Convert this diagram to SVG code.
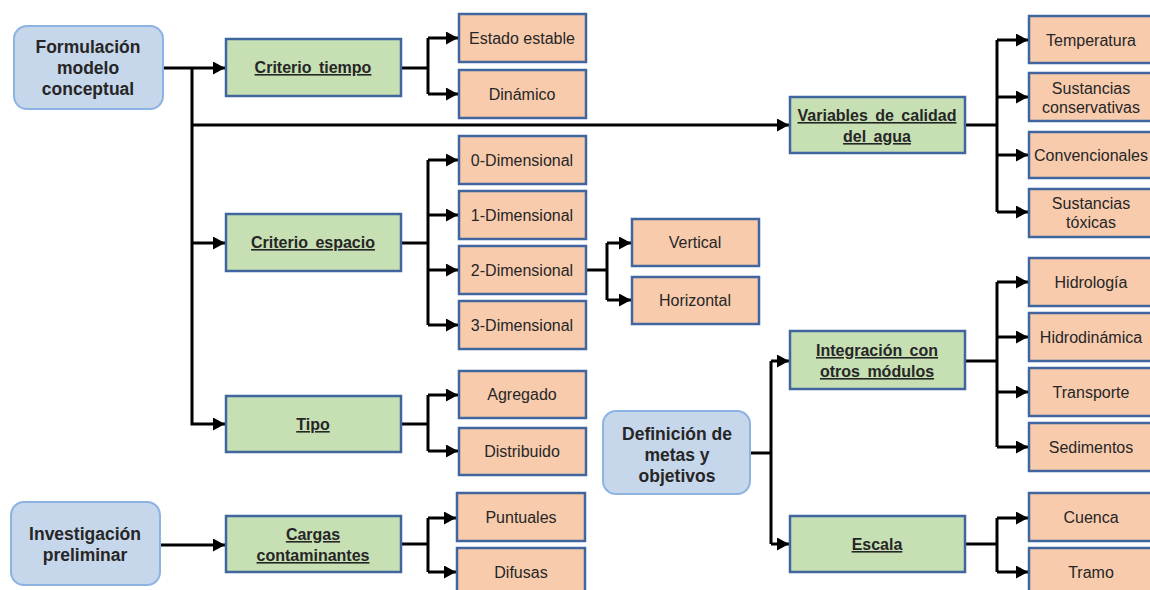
<svg xmlns="http://www.w3.org/2000/svg" width="1150" height="590" viewBox="0 0 1150 590">
  <style>
    .root { fill: #c6d6eb; stroke: #8db3e2; stroke-width: 2; }
    .crit { fill: #c6e0b4; stroke: #41659f; stroke-width: 2.5; }
    .leaf { fill: #f8cbad; stroke: #41659f; stroke-width: 2.5; }
    text { font-family: "Liberation Sans", Arial, sans-serif; fill: #262626; text-anchor: middle; }
    .tr { font-size: 17.5px; font-weight: bold; }
    .tc { font-size: 16px; font-weight: bold; text-decoration: underline; word-spacing: 3px; }
    .tl { font-size: 16px; }
    .wire { fill: none; stroke: #000; stroke-width: 3; }
  </style>
  <defs>
    <marker id="ah" markerUnits="userSpaceOnUse" markerWidth="13" markerHeight="13" refX="12" refY="6.5" orient="auto">
      <path d="M0,0 L12,6.5 L0,13 Z" fill="#000"/>
    </marker>
  </defs>

  <!-- connectors -->
  <g id="connectors">
    <!-- Formulación trunk -->
    <path class="wire" d="M163,68 H225" marker-end="url(#ah)"/>
    <path class="wire" d="M192,68 V424 H225" marker-end="url(#ah)"/>
    <path class="wire" d="M192,243 H225" marker-end="url(#ah)"/>
    <path class="wire" d="M192,125 H789" marker-end="url(#ah)"/>
    <!-- Criterio tiempo -->
    <path class="wire" d="M401,68 H428"/>
    <path class="wire" d="M428,38 V94"/>
    <path class="wire" d="M428,38 H458" marker-end="url(#ah)"/>
    <path class="wire" d="M428,94 H458" marker-end="url(#ah)"/>
    <!-- Criterio espacio -->
    <path class="wire" d="M401,243 H428"/>
    <path class="wire" d="M428,160 V325"/>
    <path class="wire" d="M428,160 H458" marker-end="url(#ah)"/>
    <path class="wire" d="M428,215 H458" marker-end="url(#ah)"/>
    <path class="wire" d="M428,270 H458" marker-end="url(#ah)"/>
    <path class="wire" d="M428,325 H458" marker-end="url(#ah)"/>
    <!-- 2-Dimensional -->
    <path class="wire" d="M587,270 H607"/>
    <path class="wire" d="M607,243 V300"/>
    <path class="wire" d="M607,243 H631" marker-end="url(#ah)"/>
    <path class="wire" d="M607,300 H631" marker-end="url(#ah)"/>
    <!-- Tipo -->
    <path class="wire" d="M401,424 H428"/>
    <path class="wire" d="M428,395 V451"/>
    <path class="wire" d="M428,395 H458" marker-end="url(#ah)"/>
    <path class="wire" d="M428,451 H458" marker-end="url(#ah)"/>
    <!-- Investigación preliminar -->
    <path class="wire" d="M160,545 H225" marker-end="url(#ah)"/>
    <path class="wire" d="M401,544 H428"/>
    <path class="wire" d="M428,518 V572"/>
    <path class="wire" d="M428,518 H456" marker-end="url(#ah)"/>
    <path class="wire" d="M428,572 H456" marker-end="url(#ah)"/>
    <!-- Variables de calidad del agua -->
    <path class="wire" d="M965,125 H997"/>
    <path class="wire" d="M997,40 V212"/>
    <path class="wire" d="M997,40 H1028" marker-end="url(#ah)"/>
    <path class="wire" d="M997,97 H1028" marker-end="url(#ah)"/>
    <path class="wire" d="M997,155 H1028" marker-end="url(#ah)"/>
    <path class="wire" d="M997,212 H1028" marker-end="url(#ah)"/>
    <!-- Definición de metas -->
    <path class="wire" d="M750,453 H771"/>
    <path class="wire" d="M771,361 V544"/>
    <path class="wire" d="M771,361 H789" marker-end="url(#ah)"/>
    <path class="wire" d="M771,544 H789" marker-end="url(#ah)"/>
    <!-- Integración -->
    <path class="wire" d="M965,361 H997"/>
    <path class="wire" d="M997,282 V447"/>
    <path class="wire" d="M997,282 H1028" marker-end="url(#ah)"/>
    <path class="wire" d="M997,337 H1028" marker-end="url(#ah)"/>
    <path class="wire" d="M997,392 H1028" marker-end="url(#ah)"/>
    <path class="wire" d="M997,447 H1028" marker-end="url(#ah)"/>
    <!-- Escala -->
    <path class="wire" d="M965,544 H997"/>
    <path class="wire" d="M997,518 V572"/>
    <path class="wire" d="M997,518 H1028" marker-end="url(#ah)"/>
    <path class="wire" d="M997,572 H1028" marker-end="url(#ah)"/>
  </g>

  <!-- root nodes -->
  <g id="formulacion">
    <rect class="root" x="14" y="26" width="149" height="83" rx="13"/>
    <text class="tr" x="88" y="53">Formulación</text>
    <text class="tr" x="88" y="74">modelo</text>
    <text class="tr" x="88" y="95">conceptual</text>
  </g>
  <g id="investigacion">
    <rect class="root" x="11" y="502" width="149" height="83" rx="13"/>
    <text class="tr" x="85" y="540">Investigación</text>
    <text class="tr" x="85" y="561">preliminar</text>
  </g>
  <g id="definicion">
    <rect class="root" x="603" y="411" width="147" height="83" rx="13"/>
    <text class="tr" x="677" y="440">Definición de</text>
    <text class="tr" x="677" y="461">metas y</text>
    <text class="tr" x="677" y="482">objetivos</text>
  </g>

  <!-- criteria -->
  <g id="criterio-tiempo">
    <rect class="crit" x="226" y="39" width="175" height="57"/>
    <text class="tc" x="313" y="73">Criterio tiempo</text>
  </g>
  <g id="criterio-espacio">
    <rect class="crit" x="226" y="214" width="175" height="57"/>
    <text class="tc" x="313" y="248">Criterio espacio</text>
  </g>
  <g id="tipo">
    <rect class="crit" x="226" y="396" width="175" height="56"/>
    <text class="tc" x="313" y="430">Tipo</text>
  </g>
  <g id="cargas">
    <rect class="crit" x="226" y="516" width="175" height="56"/>
    <text class="tc" x="313" y="540">Cargas</text>
    <text class="tc" x="313" y="561">contaminantes</text>
  </g>
  <g id="variables">
    <rect class="crit" x="790" y="97" width="175" height="56"/>
    <text class="tc" x="877" y="121">Variables de calidad</text>
    <text class="tc" x="877" y="142">del agua</text>
  </g>
  <g id="integracion">
    <rect class="crit" x="790" y="331" width="175" height="58"/>
    <text class="tc" x="877" y="356">Integración con</text>
    <text class="tc" x="877" y="377">otros módulos</text>
  </g>
  <g id="escala">
    <rect class="crit" x="790" y="516" width="175" height="56"/>
    <text class="tc" x="877" y="550">Escala</text>
  </g>

  <!-- leaves -->
  <g id="estado-estable"><rect class="leaf" x="459" y="14" width="127" height="48"/><text class="tl" x="522" y="44">Estado estable</text></g>
  <g id="dinamico"><rect class="leaf" x="459" y="70" width="127" height="48"/><text class="tl" x="522" y="100">Dinámico</text></g>
  <g id="dim0"><rect class="leaf" x="459" y="136" width="127" height="48"/><text class="tl" x="522" y="166">0-Dimensional</text></g>
  <g id="dim1"><rect class="leaf" x="459" y="191" width="127" height="48"/><text class="tl" x="522" y="221">1-Dimensional</text></g>
  <g id="dim2"><rect class="leaf" x="459" y="246" width="127" height="48"/><text class="tl" x="522" y="276">2-Dimensional</text></g>
  <g id="dim3"><rect class="leaf" x="459" y="301" width="127" height="48"/><text class="tl" x="522" y="331">3-Dimensional</text></g>
  <g id="vertical"><rect class="leaf" x="632" y="219" width="127" height="47"/><text class="tl" x="695" y="248">Vertical</text></g>
  <g id="horizontal"><rect class="leaf" x="632" y="277" width="127" height="47"/><text class="tl" x="695" y="306">Horizontal</text></g>
  <g id="agregado"><rect class="leaf" x="459" y="371" width="127" height="47"/><text class="tl" x="522" y="400">Agregado</text></g>
  <g id="distribuido"><rect class="leaf" x="459" y="428" width="127" height="47"/><text class="tl" x="522" y="457">Distribuido</text></g>
  <g id="puntuales"><rect class="leaf" x="457" y="493" width="128" height="48"/><text class="tl" x="521" y="523">Puntuales</text></g>
  <g id="difusas"><rect class="leaf" x="457" y="548" width="128" height="48"/><text class="tl" x="521" y="578">Difusas</text></g>
  <g id="temperatura"><rect class="leaf" x="1029" y="16" width="124" height="47"/><text class="tl" x="1091" y="46">Temperatura</text></g>
  <g id="conservativas"><rect class="leaf" x="1029" y="73" width="124" height="48"/><text class="tl" x="1091" y="94">Sustancias</text><text class="tl" x="1091" y="113">conservativas</text></g>
  <g id="convencionales"><rect class="leaf" x="1029" y="132" width="124" height="46"/><text class="tl" x="1091" y="161">Convencionales</text></g>
  <g id="toxicas"><rect class="leaf" x="1029" y="189" width="124" height="48"/><text class="tl" x="1091" y="209">Sustancias</text><text class="tl" x="1091" y="228">tóxicas</text></g>
  <g id="hidrologia"><rect class="leaf" x="1029" y="258" width="124" height="48"/><text class="tl" x="1091" y="288">Hidrología</text></g>
  <g id="hidrodinamica"><rect class="leaf" x="1029" y="313" width="124" height="48"/><text class="tl" x="1091" y="343">Hidrodinámica</text></g>
  <g id="transporte"><rect class="leaf" x="1029" y="368" width="124" height="48"/><text class="tl" x="1091" y="398">Transporte</text></g>
  <g id="sedimentos"><rect class="leaf" x="1029" y="423" width="124" height="48"/><text class="tl" x="1091" y="453">Sedimentos</text></g>
  <g id="cuenca"><rect class="leaf" x="1029" y="493" width="124" height="48"/><text class="tl" x="1091" y="523">Cuenca</text></g>
  <g id="tramo"><rect class="leaf" x="1029" y="548" width="124" height="48"/><text class="tl" x="1091" y="578">Tramo</text></g>
</svg>
